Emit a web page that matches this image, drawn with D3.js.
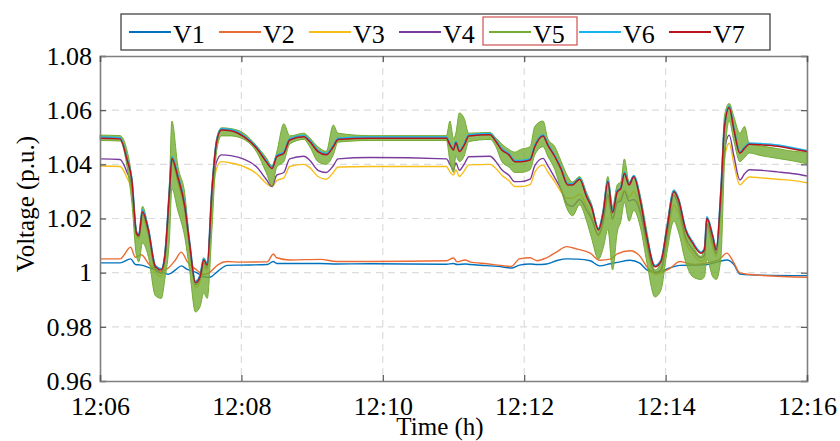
<!DOCTYPE html>
<html>
<head>
<meta charset="utf-8">
<script src="https://cdn.jsdelivr.net/npm/d3@7"></script>
<style>
  body { margin: 0; background: #fff; }
  svg { display: block; }
  svg text { font-family: "Liberation Serif", "Times New Roman", serif; }
</style>
</head>
<body>
<script>
// series names and colours
const names = ["V1", "V2", "V3", "V4", "V5", "V6", "V7"];
const colors = ["#0072BD", "#EA6B33", "#F7BE1A", "#7A3A9E", "#74AC34", "#18B4EE", "#B8141E"];

// tick labels
const yTicks = [0.96, 0.98, 1.00, 1.02, 1.04, 1.06, 1.08];
const xTickMinutes = [6, 8, 10, 12, 14, 16];

// seconds after 12:06:00 for V3..V7
const tMain = [
  0,17,23,27,31,33,36,41,47,52,
  55,59,61,66,72,76,81,85,88,91,
  95,99,103,111,122,133,141,146,150,156,
  161,173,178,185,192,198,202,229,294,297,
  300,302,305,309,313,331,336,341,347,352,
  357,365,369,376,380,386,391,397,401,407,
  413,417,423,427,431,435,439,442,445,449,
  453,459,464,471,476,481,487,491,497,503,
  510,513,515,520,523,527,530,534,538,543,
  547,551,561,575,589,600];

const v7 = [
  1.0496,1.0494,1.0416,1.0342,1.0145,1.0137,1.0225,1.0158,1.0022,1.0010,
  1.0059,1.0305,1.0422,1.0354,1.0244,1.0109,0.9963,0.9986,1.0047,1.0028,
  1.0305,1.0484,1.0527,1.0524,1.0502,1.0459,1.0410,1.0385,1.0428,1.0441,
  1.0490,1.0502,1.0484,1.0447,1.0435,1.0465,1.0492,1.0496,1.0496,1.0471,
  1.0453,1.0480,1.0447,1.0470,1.0505,1.0509,1.0484,1.0453,1.0435,1.0410,
  1.0410,1.0416,1.0465,1.0505,1.0471,1.0428,1.0385,1.0324,1.0324,1.0345,
  1.0280,1.0244,1.0158,1.0219,1.0336,1.0222,1.0299,1.0310,1.0366,1.0324,
  1.0354,1.0256,1.0133,1.0022,1.0041,1.0158,1.0299,1.0268,1.0158,1.0109,
  1.0072,1.0085,1.0201,1.0133,1.0084,1.0305,1.0539,1.0610,1.0527,1.0441,
  1.0459,1.0474,1.0472,1.0467,1.0456,1.0447];

const v6 = [
  1.0500,1.0498,1.0420,1.0346,1.0150,1.0142,1.0232,1.0163,1.0026,1.0014,
  1.0063,1.0310,1.0428,1.0360,1.0250,1.0114,0.9968,0.9991,1.0052,1.0033,
  1.0310,1.0488,1.0531,1.0528,1.0506,1.0463,1.0414,1.0389,1.0432,1.0445,
  1.0494,1.0506,1.0488,1.0451,1.0439,1.0469,1.0496,1.0500,1.0500,1.0475,
  1.0457,1.0484,1.0451,1.0474,1.0509,1.0513,1.0488,1.0457,1.0439,1.0414,
  1.0414,1.0420,1.0469,1.0509,1.0475,1.0432,1.0389,1.0328,1.0328,1.0349,
  1.0284,1.0248,1.0162,1.0223,1.0341,1.0226,1.0303,1.0314,1.0371,1.0328,
  1.0358,1.0260,1.0137,1.0026,1.0045,1.0162,1.0304,1.0272,1.0162,1.0113,
  1.0076,1.0089,1.0206,1.0137,1.0088,1.0310,1.0543,1.0614,1.0531,1.0445,
  1.0463,1.0478,1.0476,1.0471,1.0460,1.0451];

const v4 = [
  1.0420,1.0418,1.0370,1.0320,1.0140,1.0132,1.0215,1.0150,1.0010,0.9998,
  1.0050,1.0295,1.0418,1.0345,1.0235,1.0100,0.9955,0.9978,1.0035,1.0018,
  1.0280,1.0410,1.0435,1.0432,1.0419,1.0390,1.0345,1.0318,1.0360,1.0370,
  1.0420,1.0430,1.0415,1.0378,1.0370,1.0395,1.0420,1.0425,1.0420,1.0400,
  1.0380,1.0405,1.0378,1.0400,1.0428,1.0430,1.0410,1.0380,1.0360,1.0336,
  1.0336,1.0345,1.0395,1.0422,1.0395,1.0350,1.0310,1.0250,1.0245,1.0270,
  1.0230,1.0200,1.0140,1.0190,1.0290,1.0200,1.0260,1.0265,1.0300,1.0265,
  1.0270,1.0215,1.0110,1.0000,1.0010,1.0130,1.0286,1.0245,1.0130,1.0085,
  1.0055,1.0065,1.0180,1.0110,1.0070,1.0270,1.0450,1.0508,1.0430,1.0342,
  1.0365,1.0380,1.0378,1.0372,1.0365,1.0357];

const v3 = [
  1.0394,1.0392,1.0350,1.0305,1.0135,1.0125,1.0200,1.0140,1.0000,0.9986,
  1.0040,1.0280,1.0410,1.0335,1.0225,1.0090,0.9944,0.9968,1.0022,1.0008,
  1.0260,1.0385,1.0410,1.0405,1.0392,1.0365,1.0330,1.0318,1.0340,1.0350,
  1.0392,1.0400,1.0388,1.0355,1.0345,1.0370,1.0390,1.0392,1.0392,1.0372,
  1.0360,1.0380,1.0355,1.0375,1.0398,1.0400,1.0385,1.0360,1.0340,1.0318,
  1.0318,1.0325,1.0370,1.0398,1.0372,1.0335,1.0300,1.0275,1.0275,1.0290,
  1.0245,1.0210,1.0133,1.0180,1.0280,1.0195,1.0265,1.0275,1.0305,1.0280,
  1.0300,1.0219,1.0100,0.9993,1.0000,1.0110,1.0250,1.0220,1.0112,1.0070,
  1.0041,1.0050,1.0170,1.0095,1.0059,1.0250,1.0420,1.0478,1.0400,1.0324,
  1.0340,1.0353,1.0350,1.0345,1.0340,1.0332];

// V5 is very noisy: lower and upper edge of its band
const v5Lo = [
  1.0488,1.0486,1.0390,1.0260,1.0060,1.0040,1.0110,1.0060,0.9915,0.9905,
  0.9975,1.0130,1.0310,1.0230,1.0130,1.0010,0.9855,0.9875,0.9925,0.9905,
  1.0160,1.0450,1.0505,1.0505,1.0492,1.0445,1.0370,1.0320,1.0390,1.0410,
  1.0475,1.0492,1.0465,1.0410,1.0400,1.0435,1.0482,1.0488,1.0488,1.0410,
  1.0370,1.0430,1.0410,1.0430,1.0484,1.0492,1.0465,1.0410,1.0390,1.0370,
  1.0370,1.0380,1.0435,1.0465,1.0430,1.0380,1.0310,1.0230,1.0210,1.0250,
  1.0190,1.0130,1.0050,1.0090,1.0160,1.0010,1.0150,1.0190,1.0260,1.0190,
  1.0230,1.0160,1.0040,0.9910,0.9935,1.0070,1.0190,1.0150,1.0040,0.9985,
  0.9975,0.9985,1.0050,0.9985,0.9975,1.0060,1.0410,1.0560,1.0485,1.0410,
  1.0425,1.0442,1.0432,1.0422,1.0412,1.0402];

const v5Hi = [
  1.0508,1.0506,1.0450,1.0350,1.0155,1.0138,1.0245,1.0165,1.0020,1.0000,
  1.0075,1.0340,1.0560,1.0395,1.0290,1.0115,0.9968,0.9995,1.0055,1.0035,
  1.0315,1.0495,1.0535,1.0532,1.0515,1.0468,1.0425,1.0395,1.0445,1.0550,
  1.0505,1.0515,1.0497,1.0465,1.0448,1.0545,1.0515,1.0506,1.0506,1.0560,
  1.0495,1.0515,1.0590,1.0570,1.0515,1.0518,1.0497,1.0475,1.0455,1.0445,
  1.0455,1.0465,1.0540,1.0560,1.0495,1.0465,1.0415,1.0355,1.0335,1.0355,
  1.0295,1.0255,1.0165,1.0235,1.0355,1.0245,1.0325,1.0335,1.0420,1.0335,
  1.0358,1.0275,1.0155,1.0010,1.0038,1.0175,1.0305,1.0275,1.0158,1.0100,
  1.0060,1.0098,1.0198,1.0118,1.0098,1.0295,1.0580,1.0625,1.0575,1.0515,
  1.0540,1.0476,1.0468,1.0458,1.0448,1.0445];

// seconds after 12:06:00 for V1, V2
const tLow = [
  0,17,26,30,35,42,51,58,64,69,
  74,82,88,93,100,108,119,142,147,150,
  161,187,201,229,294,300,303,310,314,328,
  342,349,356,365,371,379,388,396,405,416,
  424,433,439,450,458,465,472,484,492,504,
  515,525,532,538,543,552,600];

const v2 = [
  1.0051,1.0051,1.0094,1.0057,1.0066,1.0029,1.0004,1.0017,1.0047,1.0076,
  1.0041,1.0010,0.9993,1.0001,1.0029,1.0041,1.0039,1.0040,1.0069,1.0055,
  1.0047,1.0049,1.0041,1.0041,1.0044,1.0054,1.0040,1.0047,1.0040,1.0033,
  1.0026,1.0023,1.0051,1.0055,1.0044,1.0055,1.0078,1.0096,1.0087,1.0072,
  1.0046,1.0050,1.0069,1.0081,1.0062,1.0017,0.9995,1.0017,1.0041,1.0030,
  1.0036,1.0047,1.0072,1.0036,0.9999,0.9993,0.9983];

const v1 = [
  1.0036,1.0036,1.0051,1.0030,1.0028,1.0018,1.0005,0.9994,1.0010,1.0025,
  1.0012,1.0000,0.9985,0.9983,1.0005,1.0027,1.0028,1.0030,1.0041,1.0034,
  1.0034,1.0034,1.0032,1.0033,1.0031,1.0034,1.0030,1.0032,1.0030,1.0026,
  1.0021,1.0017,1.0028,1.0032,1.0030,1.0032,1.0045,1.0051,1.0050,1.0044,
  1.0025,1.0033,1.0038,1.0046,1.0035,1.0008,1.0001,1.0018,1.0027,1.0028,
  1.0030,1.0041,1.0047,1.0030,0.9995,0.9992,0.9989];

// layout
const W = 840, H = 441;
const margin = {top: 56, right: 33, bottom: 60, left: 100};
const width = W - margin.left - margin.right,
      height = H - margin.top - margin.bottom;

const t0 = new Date(2020, 0, 1, 12, 6, 0);
const toDate = s => new Date(t0.getTime() + s * 1000);

const x = d3.scaleTime()
    .domain([t0, new Date(2020, 0, 1, 12, 16, 0)])
    .range([0, width]);
const y = d3.scaleLinear()
    .domain([0.96, 1.08])
    .range([height, 0]);

const xTickVals = xTickMinutes.map(m => new Date(2020, 0, 1, 12, m, 0));

const svg = d3.select("body").append("svg")
    .attr("width", W)
    .attr("height", H);

const g = svg.append("g")
    .attr("transform", "translate(" + margin.left + "," + margin.top + ")");

// dashed grid
g.append("g").selectAll("line")
    .data(yTicks.slice(1, -1))
    .enter().append("line")
    .attr("x1", 0).attr("x2", width)
    .attr("y1", d => y(d)).attr("y2", d => y(d))
    .attr("stroke", "#dcdcdc").attr("stroke-width", 1.2)
    .attr("stroke-dasharray", "7,5");
g.append("g").selectAll("line")
    .data(xTickVals.slice(1, -1))
    .enter().append("line")
    .attr("y1", 0).attr("y2", height)
    .attr("x1", d => x(d)).attr("x2", d => x(d))
    .attr("stroke", "#dcdcdc").attr("stroke-width", 1.2)
    .attr("stroke-dasharray", "7,5");

// series
const line = d3.line()
    .curve(d3.curveMonotoneX)
    .x(d => x(toDate(d[0])))
    .y(d => y(d[1]));

function drawSeries(times, vals, color, w) {
    g.append("path")
        .datum(times.map((t, i) => [t, vals[i]]))
        .attr("fill", "none")
        .attr("stroke", color)
        .attr("stroke-width", w)
        .attr("stroke-linejoin", "round")
        .attr("d", line);
}

drawSeries(tLow, v1, colors[0], 1.4);
drawSeries(tLow, v2, colors[1], 1.4);
drawSeries(tMain, v3, colors[2], 1.4);
drawSeries(tMain, v4, colors[3], 1.4);

// V5 noise band
const band = d3.area()
    .curve(d3.curveMonotoneX)
    .x(d => x(toDate(d.t)))
    .y0(d => y(d.lo))
    .y1(d => y(d.hi));
g.append("path")
    .datum(tMain.map((t, i) => ({t: t, lo: v5Lo[i], hi: v5Hi[i]})))
    .attr("fill", colors[4])
    .attr("fill-opacity", 0.8)
    .attr("stroke", colors[4])
    .attr("stroke-width", 1)
    .attr("d", band);

drawSeries(tMain, v6, colors[5], 1.8);
drawSeries(tMain, v7, colors[6], 1.5);

// axes with inward ticks
const axisColor = "#7f7f7f";
const yAxis = g.append("g")
    .call(d3.axisLeft(y).tickValues(yTicks).tickSize(-6).tickPadding(8)
        .tickFormat(d => d === 1 ? "1" : d3.format(".2f")(d)));
const yAxisR = g.append("g")
    .attr("transform", "translate(" + width + ",0)")
    .call(d3.axisRight(y).tickValues(yTicks).tickSize(-6).tickFormat(""));
const xAxis = g.append("g")
    .attr("transform", "translate(0," + height + ")")
    .call(d3.axisBottom(x).tickValues(xTickVals).tickSize(-6).tickPadding(16)
        .tickFormat(d3.timeFormat("%H:%M")));
const xAxisT = g.append("g")
    .call(d3.axisTop(x).tickValues(xTickVals).tickSize(-6).tickFormat(""));

[yAxis, yAxisR, xAxis, xAxisT].forEach(a => {
    a.attr("font-family", null).attr("font-size", null);
    a.select(".domain").attr("stroke", axisColor).attr("stroke-width", 1.6);
    a.selectAll(".tick line").attr("stroke", "#555").attr("stroke-width", 1.2);
    a.selectAll("text")
        .attr("fill", "#000")
        .style("font-size", "26px");
});

// axis titles
svg.append("text")
    .attr("transform", "translate(34,204) rotate(-90)")
    .attr("text-anchor", "middle")
    .style("font-size", "25px")
    .text("Voltage (p.u.)");
svg.append("text")
    .attr("x", 440)
    .attr("y", 435)
    .attr("text-anchor", "middle")
    .style("font-size", "25px")
    .text("Time (h)");

// legend
const legend = svg.append("g");
legend.append("rect")
    .attr("x", 121).attr("y", 14)
    .attr("width", 649).attr("height", 36)
    .attr("fill", "#fff")
    .attr("stroke", "#333").attr("stroke-width", 1.2);

const item = legend.selectAll(".item")
    .data(names)
    .enter().append("g")
    .attr("class", "item")
    .attr("transform", (d, i) => "translate(" + (129 + i * 90) + ",0)");
item.append("line")
    .attr("x1", 0).attr("x2", 42)
    .attr("y1", 32).attr("y2", 32)
    .attr("stroke", (d, i) => colors[i])
    .attr("stroke-width", 2.2);
item.append("text")
    .attr("x", 44).attr("y", 43)
    .style("font-size", "26px")
    .text(d => d);

// red highlight around V5
legend.append("rect")
    .attr("x", 129 + 4 * 90 - 6).attr("y", 17)
    .attr("width", 94).attr("height", 28)
    .attr("fill", "none")
    .attr("stroke", "#d05050").attr("stroke-width", 1.2);
</script>
</body>
</html>
